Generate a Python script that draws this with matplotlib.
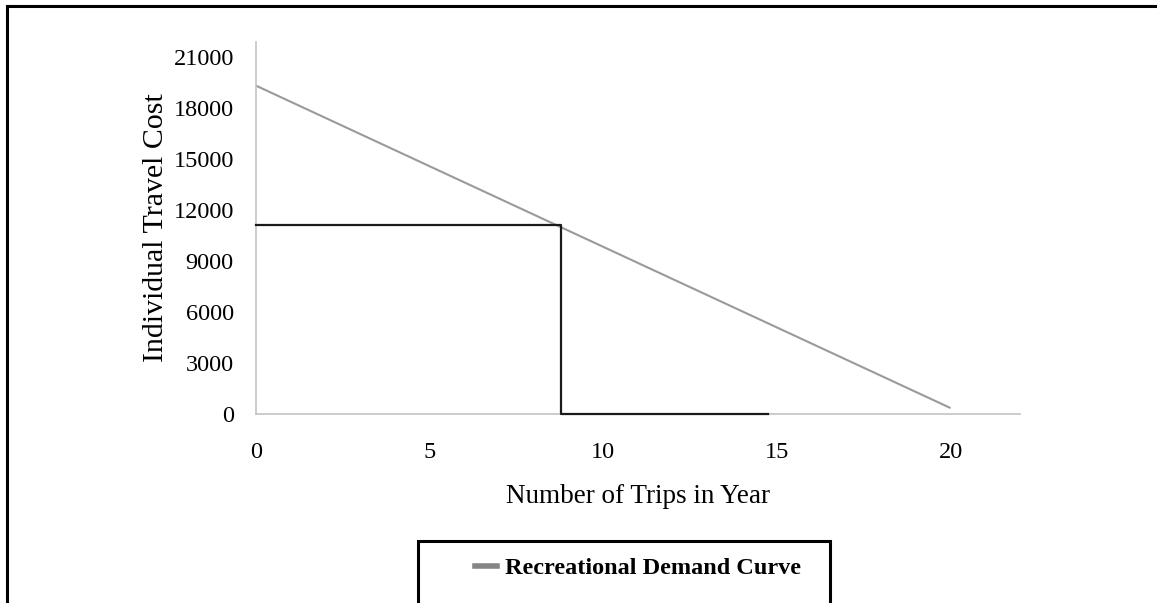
import matplotlib
matplotlib.use("Agg")
import matplotlib.pyplot as plt
from matplotlib.lines import Line2D
from matplotlib.patches import Rectangle

plt.rcParams["font.family"] = ["Liberation Serif", "DejaVu Serif"]

# demand curve end points (trips, cost)
demand_trips = [0, 20]
demand_cost = [19330, 350]

# observed point path: cost level, trips, then along the axis
step_trips = [0, 8.79, 8.79, 14.73]
step_cost = [11140, 11140, 0, 0]

x_ticks = [0, 5, 10, 15, 20]
y_ticks = [0, 3000, 6000, 9000, 12000, 15000, 18000, 21000]

W, H = 1157, 603
fig = plt.figure(figsize=(W / 100, H / 100), dpi=100)
ax = fig.add_axes([256 / W, 1 - 414 / H, (1020 - 256) / W, (414 - 42) / H])

ax.plot(demand_trips, demand_cost, color="#9a9a9a", lw=1.5,
        label="Recreational Demand Curve", solid_capstyle="butt")
ax.plot(step_trips, step_cost, color="#1a1a1a", lw=1.6, clip_on=False,
        zorder=3)

ax.set_xlim(0, 22)
ax.set_ylim(0, 21900)
ax.set_xticks(x_ticks)
ax.set_yticks(y_ticks)
ax.tick_params(axis="both", length=0, labelsize=17.5)
ax.tick_params(axis="x", pad=20)
ax.tick_params(axis="y", pad=16)
for side in ("top", "right"):
    ax.spines[side].set_visible(False)
for side in ("left", "bottom"):
    ax.spines[side].set_color("#c4c4c4")
    ax.spines[side].set_linewidth(1.2)

ax.set_xlabel("Number of Trips in Year", fontsize=19.5, labelpad=15)
ax.set_ylabel("Individual Travel Cost", fontsize=21.5, labelpad=3)

# legend without frame, box drawn separately (runs off the bottom)
handles = [Line2D([], [], color="#858585", lw=4)]
fig.legend(handles, ["Recreational Demand Curve"], loc="center",
           bbox_to_anchor=(638 / W, 1 - 568 / H), frameon=False,
           prop={"weight": "bold", "size": 17.5}, handlelength=0.9,
           handletextpad=0.3)
fig.add_artist(Rectangle((418 / W, -0.05), (830 - 418) / W, 1.05 - 541 / H,
                         transform=fig.transFigure, fill=False,
                         edgecolor="black", lw=2.2))

# outer border (top and left)
fig.add_artist(Line2D([7 / W, 7 / W], [0, 1 - 6 / H], transform=fig.transFigure,
                      color="black", lw=2.2))
fig.add_artist(Line2D([7 / W, 1], [1 - 6 / H, 1 - 6 / H],
                      transform=fig.transFigure, color="black", lw=2.2))

fig.savefig("out.png", dpi=100)
